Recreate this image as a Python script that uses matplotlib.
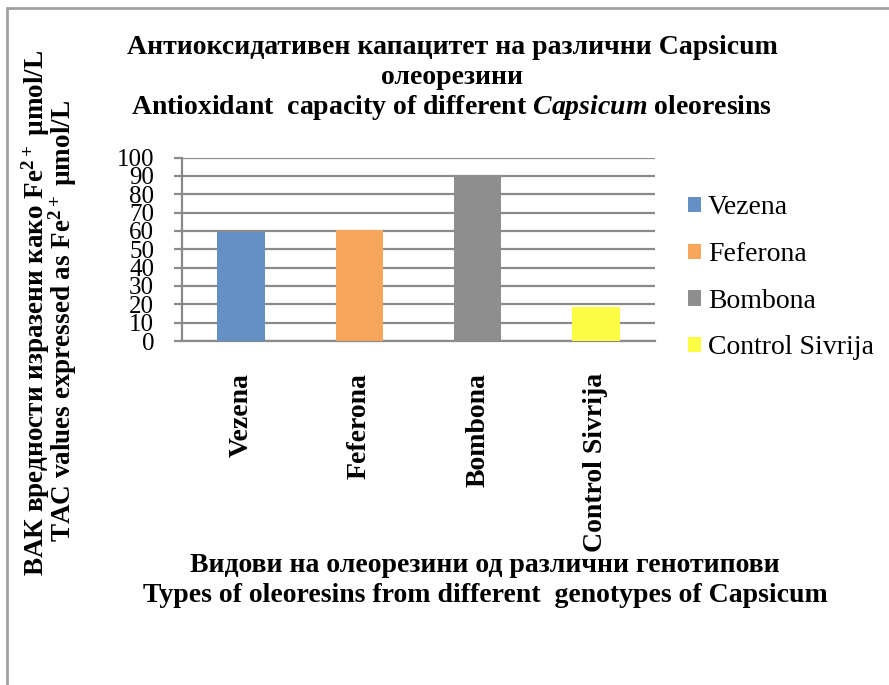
import matplotlib
matplotlib.use("Agg")
import matplotlib.pyplot as plt
from matplotlib.patches import Rectangle, Patch

plt.rcParams['font.family'] = ['Liberation Serif', 'DejaVu Serif']
plt.rcParams['mathtext.fontset'] = 'custom'
plt.rcParams['mathtext.rm'] = 'Liberation Serif:bold'
plt.rcParams['mathtext.it'] = 'Liberation Serif:italic:bold'
plt.rcParams['mathtext.bf'] = 'Liberation Serif:bold'

categories = ["Vezena", "Feferona", "Bombona", "Control Sivrija"]
values = [59.3, 60.5, 90.6, 18.3]
colors = ["#6490C6", "#F7A65B", "#8E8E8E", "#FCFC44"]
yticks = list(range(0, 101, 10))

title_lines = ["Антиоксидативен капацитет на различни Capsicum",
               "олеорезини",
               "Antioxidant  capacity of different $Capsicum$ oleoresins"]
ylabel_lines = ["ВАК вредности изразени како Fe$^{2+}$ µmol/L",
                "TAC values expressed as Fe$^{2+}$ µmol/L"]
xlabel_lines = ["Видови на олеорезини од различни генотипови",
                "Types of oleoresins from different  genotypes of Capsicum"]

W, H = 889, 685
fig = plt.figure(figsize=(W / 100, H / 100), dpi=100)

def fx(px):
    return px / W

def fy(py):
    return 1 - py / H

# outer frame
fig.patches.append(Rectangle((fx(7), fy(700)), fx(900), (700 - 8) / H,
                             transform=fig.transFigure, fill=False,
                             edgecolor="#A0A0A0", linewidth=2))

ax = fig.add_axes([fx(182), fy(341), fx(655) - fx(182), fy(157.5) - fy(341)])
x = range(len(categories))
ax.bar(x, values, width=0.4, color=colors, zorder=3)
ax.set_xlim(-0.5, len(categories) - 0.5)
ax.set_ylim(0, 100)
ax.set_yticks(yticks)
ax.set_yticklabels([str(v) for v in yticks], fontsize=18)
ax.yaxis.grid(True, color="#8A8A8A", linewidth=1.6, zorder=0)
ax.set_axisbelow(True)
for s in ["top", "right"]:
    ax.spines[s].set_visible(False)
ax.spines["left"].set_color("#8A8A8A")
ax.spines["left"].set_linewidth(1.6)
ax.spines["bottom"].set_color("#8A8A8A")
ax.spines["bottom"].set_linewidth(1.6)
ax.tick_params(axis="y", length=6, width=1.6, color="#8A8A8A", pad=14)
ax.set_xticks(list(x))
ax.set_xticklabels(categories, rotation=90, fontsize=20, fontweight="bold",
                   va="top", ha="center")
ax.tick_params(axis="x", length=0, pad=23)

handles = [Patch(facecolor=c, edgecolor="none") for c in colors]
fig.legend(handles, categories, loc="center left",
           bbox_to_anchor=(fx(688), fy(278)), frameon=False, fontsize=20,
           handlelength=0.47, handleheight=0.47, handletextpad=0.25,
           labelspacing=0.78, borderaxespad=0, borderpad=0)

# title
for txt, yy in zip(title_lines, [47, 77, 108]):
    fig.text(fx(452), fy(yy), txt, ha="center", va="center",
             fontsize=20, fontweight="bold")

# y label
for txt, xx, yy in zip(ylabel_lines, [36, 63], [313, 321]):
    fig.text(fx(xx), fy(yy), txt, ha="center", va="center", rotation=90,
             fontsize=19.5, fontweight="bold")

# x label
for txt, yy in zip(xlabel_lines, [565, 596]):
    fig.text(fx(485), fy(yy), txt, ha="center", va="center",
             fontsize=20, fontweight="bold")

fig.savefig("out.png", dpi=100, facecolor="white")
